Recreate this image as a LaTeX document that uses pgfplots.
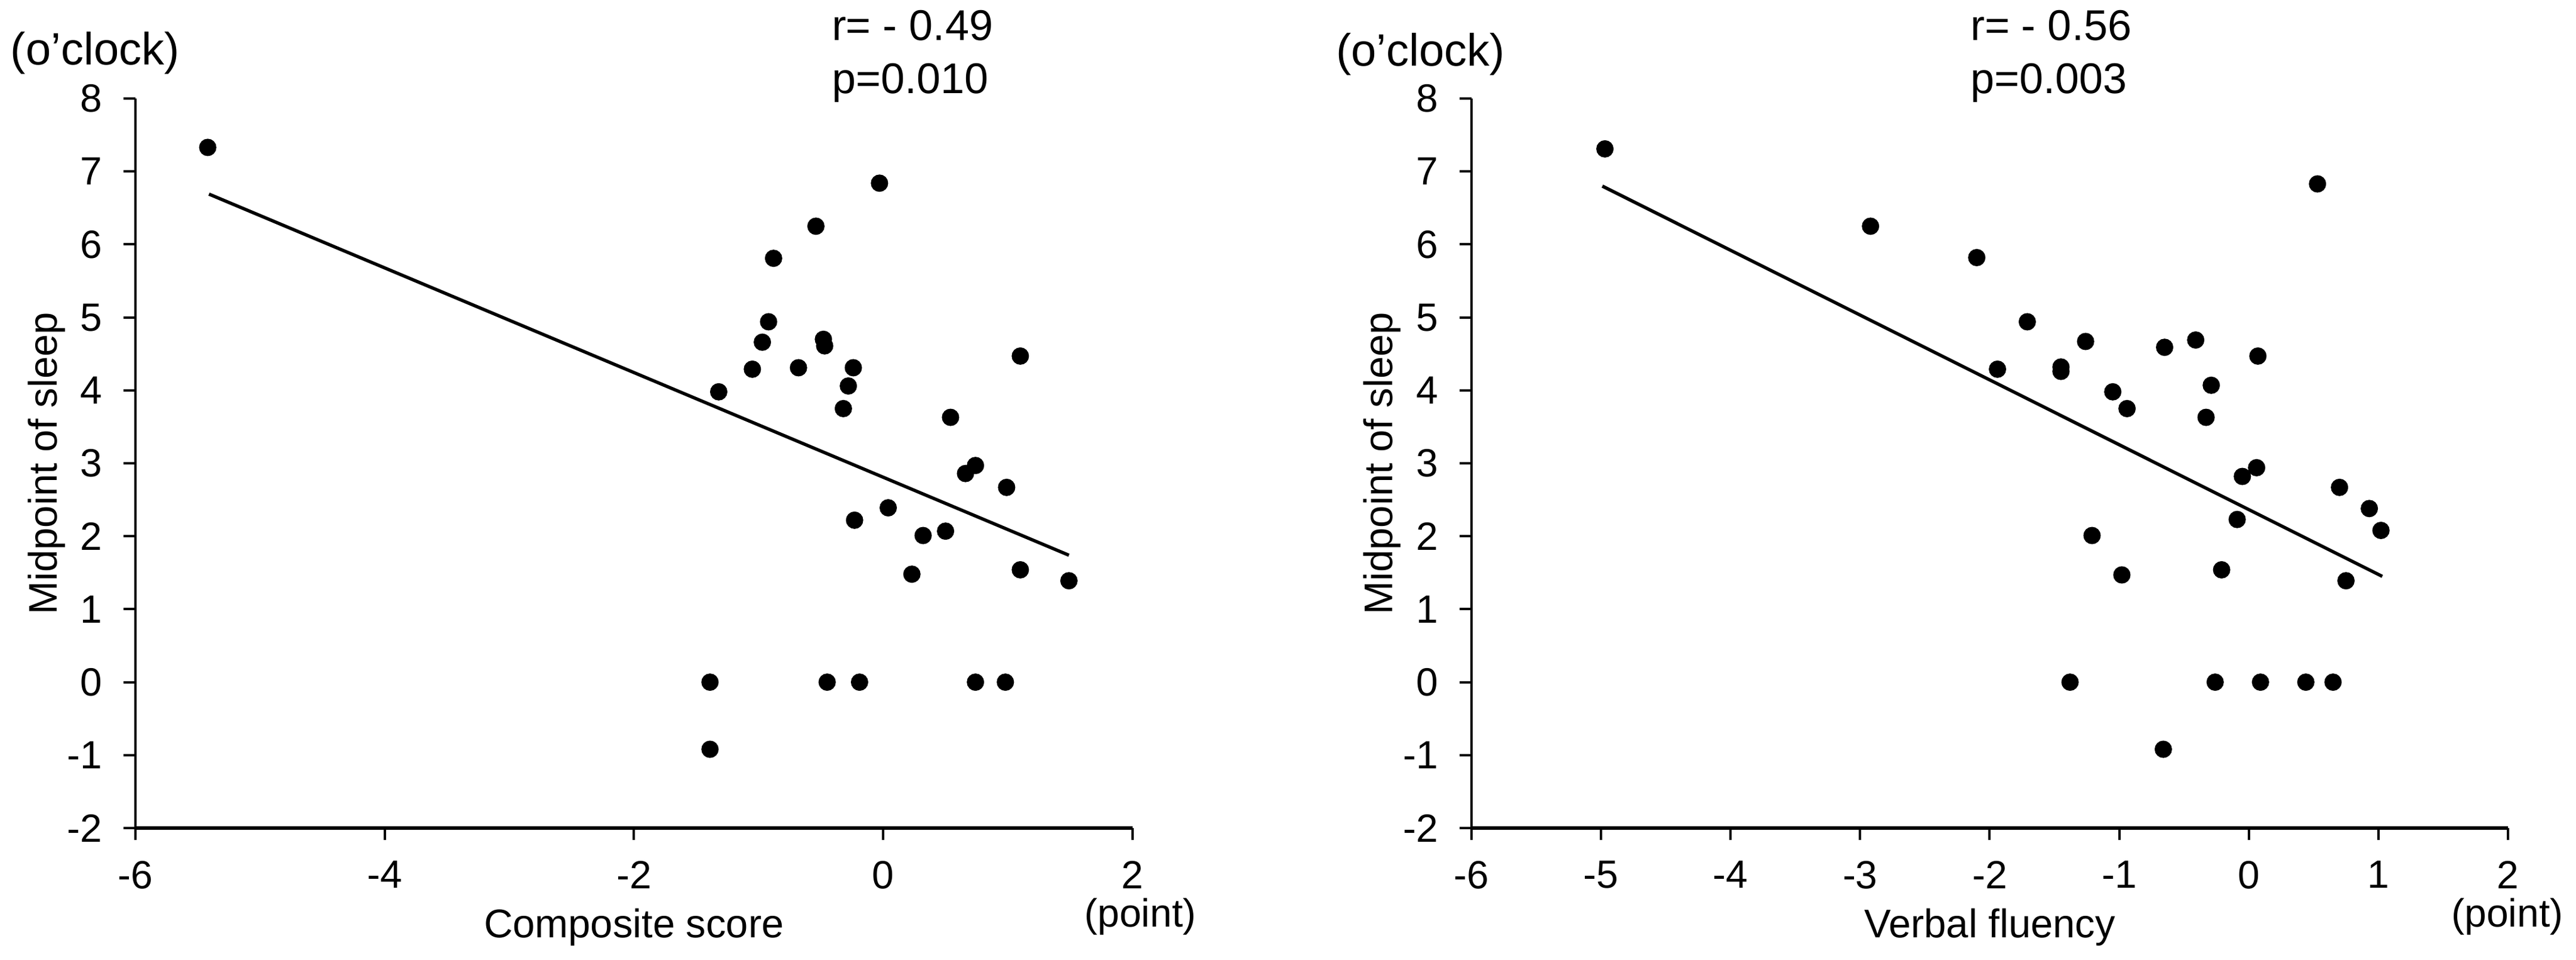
\documentclass[border=0pt]{standalone}
\usepackage{fontspec}
\setmainfont{Liberation Sans}
\usepackage{pgfplots}
\pgfplotsset{compat=1.18}
\pgfplotsset{
  panel/.style={
    scale only axis,
    anchor=south west,
    height=122.2pt,
    xmin=-6, xmax=2, ymin=-2, ymax=8,
    axis x line*=bottom, axis y line*=left,
    axis line style={-},
    x axis line style={line width=0.65pt},
    y axis line style={line width=0.4pt},
    tick align=outside,
    major tick length=2pt,
    tick style={line width=0.4pt, black},
    ytick={-2,-1,0,1,2,3,4,5,6,7,8},
    yticklabels={-2,-1,0,1,2,3,4,5,6,7,8},
    ticklabel style={font=\fontsize{6.6}{7.9}\selectfont},
    xlabel style={font=\fontsize{6.7}{8}\selectfont, at={(axis description cs:0.5,0)}, anchor=base, yshift=-18.3pt},
    ylabel={Midpoint of sleep},
    clip=false,
  },
  dots/.style={only marks, mark=*, mark size=1.25pt, black, mark options={fill=black}},
  fit/.style={black, line width=0.55pt, no marks},
}
\begin{document}
\begin{tikzpicture}
\useasboundingbox (0,0) rectangle (431.7pt,160.8pt);
\begin{axis}[panel, at={(22.7pt,22.1pt)}, width=167.1pt,
  xtick={-6,-4,-2,0,2}, xticklabels={-6,-4,-2,0,2},
  xlabel={Composite score},
  ylabel style={font=\fontsize{6.7}{8}\selectfont, at={(axis description cs:-0.079,0.5)}, anchor=base}]
\addplot[dots] coordinates {
(-5.42,7.33) (-0.03,6.84) (-0.54,6.25) (-0.88,5.81) (-0.92,4.94) (-0.97,4.66)
(-0.48,4.70) (-0.47,4.61) (-1.05,4.29) (-0.68,4.31) (-0.24,4.31) (-0.28,4.06)
(-0.32,3.75) (-1.32,3.98) (1.10,4.47) (0.54,3.63) (0.66,2.86) (0.74,2.97)
(0.99,2.67) (0.04,2.39) (-0.23,2.22) (0.32,2.01) (0.50,2.07) (0.23,1.48)
(1.10,1.54) (1.49,1.39) (-1.39,0) (-0.45,0) (-0.19,0) (0.74,0) (0.98,0)
(-1.39,-0.92)
};
\addplot[fit] coordinates {(-5.41,6.69) (1.49,1.74)};
\end{axis}
\begin{axis}[panel, at={(246.6pt,22.1pt)}, width=173.7pt,
  xtick={-6,-5,-4,-3,-2,-1,0,1,2}, xticklabels={-6,-5,-4,-3,-2,-1,0,1,2},
  xlabel={Verbal fluency},
  ylabel style={font=\fontsize{6.7}{8}\selectfont, at={(axis description cs:-0.076,0.5)}, anchor=base}]
\addplot[dots] coordinates {
(-4.97,7.31) (0.53,6.83) (-2.92,6.25) (-2.10,5.82) (-1.71,4.94) (-1.26,4.67)
(-0.65,4.59) (-0.41,4.69) (0.07,4.47) (-1.94,4.29) (-1.45,4.32) (-1.45,4.26)
(-1.05,3.98) (-0.94,3.75) (-0.29,4.07) (-0.33,3.63) (-0.05,2.82) (0.06,2.94)
(0.70,2.67) (0.93,2.38) (1.02,2.08) (-0.09,2.23) (-1.21,2.01) (-0.98,1.47)
(-0.21,1.54) (0.75,1.39) (-1.38,0) (-0.26,0) (0.09,0) (0.44,0) (0.65,0)
(-0.66,-0.92)
};
\addplot[fit] coordinates {(-4.99,6.80) (1.03,1.45)};
\end{axis}
\begin{scope}[every node/.style={inner sep=0pt}]
\node[anchor=base west, font=\fontsize{7.6}{9}\selectfont] at (1.6pt,149.9pt) {(o’clock)};
\node[anchor=base west, font=\fontsize{7.6}{9}\selectfont] at (223.7pt,149.7pt) {(o’clock)};
\node[anchor=base west, font=\fontsize{7.2}{9}\selectfont] at (139.2pt,154pt) {r= - 0.49};
\node[anchor=base west, font=\fontsize{7.2}{9}\selectfont] at (139.2pt,145.1pt) {p=0.010};
\node[anchor=base west, font=\fontsize{7.2}{9}\selectfont] at (330pt,154pt) {r= - 0.56};
\node[anchor=base west, font=\fontsize{7.2}{9}\selectfont] at (330pt,145.1pt) {p=0.003};
\node[anchor=base, font=\fontsize{6.6}{8}\selectfont] at (191.1pt,5.5pt) {(point)};
\node[anchor=base, font=\fontsize{6.6}{8}\selectfont] at (420.2pt,5.5pt) {(point)};
\end{scope}
\end{tikzpicture}
\end{document}
